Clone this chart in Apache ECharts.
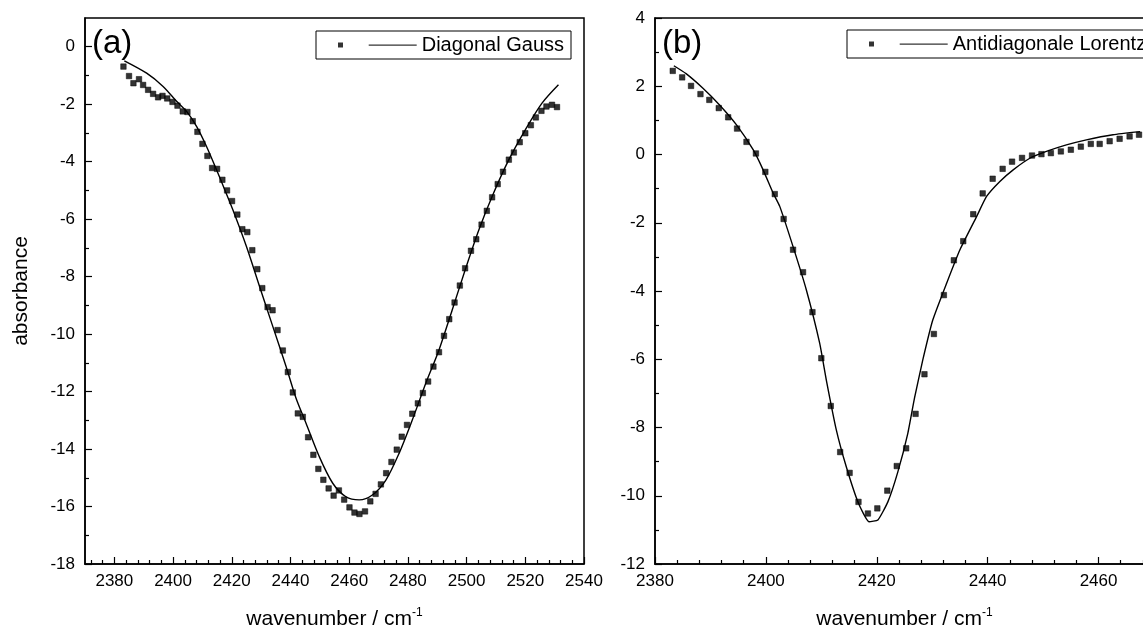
<!DOCTYPE html>
<html>
<head>
<meta charset="utf-8">
<script src="https://cdn.jsdelivr.net/npm/echarts@6/dist/echarts.min.js"></script>
<style>
html,body{margin:0;padding:0;background:#fff;}
#chart{width:1143px;height:626px;}
</style>
</head>
<body>
<div id="chart"></div>
<script>
// ---------- Panel (a): Diagonal Gauss ----------
const aDataX = [2383.1, 2385.0, 2386.5, 2388.4, 2389.8, 2391.5, 2393.2, 2394.9, 2396.4, 2398.0,
  2399.8, 2401.5, 2403.3, 2404.9, 2406.7, 2408.3, 2410.0, 2411.7, 2413.3, 2415.0,
  2416.8, 2418.4, 2420.1, 2421.9, 2423.6, 2425.3, 2427.0, 2428.7, 2430.4, 2432.2,
  2433.9, 2435.6, 2437.4, 2439.1, 2440.8, 2442.5, 2444.2, 2446.0, 2447.8, 2449.5,
  2451.2, 2453.0, 2454.7, 2456.5, 2458.3, 2460.1, 2461.8, 2463.5, 2465.4, 2467.2,
  2469.0, 2470.8, 2472.6, 2474.4, 2476.2, 2477.9, 2479.7, 2481.5, 2483.4, 2485.1,
  2486.9, 2488.7, 2490.6, 2492.3, 2494.1, 2495.9, 2497.7, 2499.5, 2501.5, 2503.3,
  2505.1, 2506.9, 2508.7, 2510.6, 2512.4, 2514.4, 2516.1, 2518.1, 2520.0, 2521.9,
  2523.6, 2525.5, 2527.2, 2529.1, 2530.8];
const aDataY = [-0.69, -1.02, -1.27, -1.13, -1.33, -1.50, -1.64, -1.76, -1.71, -1.80,
  -1.92, -2.05, -2.25, -2.27, -2.59, -2.96, -3.38, -3.80, -4.22, -4.25,
  -4.63, -5.00, -5.37, -5.84, -6.35, -6.45, -7.08, -7.74, -8.40, -9.06,
  -9.17, -9.86, -10.57, -11.32, -12.03, -12.76, -12.88, -13.59, -14.20, -14.69,
  -15.07, -15.37, -15.62, -15.44, -15.76, -16.03, -16.21, -16.26, -16.17, -15.82,
  -15.56, -15.23, -14.84, -14.45, -14.02, -13.57, -13.16, -12.77, -12.41, -12.05,
  -11.65, -11.13, -10.63, -10.06, -9.48, -8.90, -8.31, -7.71, -7.10, -6.70,
  -6.19, -5.71, -5.24, -4.78, -4.35, -3.93, -3.68, -3.32, -3.01, -2.73,
  -2.46, -2.23, -2.08, -2.02, -2.10];
const aFitX = [2383.4, 2391.0, 2396.6, 2401.2, 2404.6, 2408.0, 2411.4, 2414.8, 2417.5, 2420.4,
  2425.0, 2429.5, 2434.0, 2438.5, 2441.9, 2445.3, 2449.8, 2454.4, 2458.9, 2463.4,
  2467.9, 2472.5, 2477.0, 2481.5, 2486.1, 2490.6, 2495.1, 2499.7, 2504.2, 2508.7,
  2514.4, 2520.0, 2525.7, 2531.3];
const aFitY = [-0.49, -0.92, -1.38, -1.90, -2.25, -2.77, -3.47, -4.28, -4.95, -5.68,
  -6.95, -8.35, -9.74, -11.13, -12.23, -13.10, -14.26, -15.19, -15.66, -15.77,
  -15.60, -15.08, -14.15, -12.99, -11.71, -10.55, -9.16, -7.71, -6.37, -5.21,
  -3.93, -2.89, -1.96, -1.32];

// ---------- Panel (b): Antidiagonale Lorentz ----------
const bDataX = [2383.2, 2384.9, 2386.5, 2388.2, 2389.8, 2391.5, 2393.2, 2394.8, 2396.5, 2398.2,
  2399.9, 2401.6, 2403.2, 2404.9, 2406.7, 2408.4, 2410.0, 2411.7, 2413.4, 2415.1,
  2416.7, 2418.4, 2420.1, 2421.9, 2423.6, 2425.3, 2427.0, 2428.6, 2430.3, 2432.1,
  2433.9, 2435.6, 2437.4, 2439.1, 2440.9, 2442.7, 2444.4, 2446.2, 2448.0, 2449.7,
  2451.4, 2453.2, 2455.0, 2456.8, 2458.6, 2460.2, 2462.0, 2463.8, 2465.6, 2467.3];
const bDataY = [2.45, 2.26, 2.01, 1.77, 1.60, 1.36, 1.09, 0.76, 0.37, 0.03,
  -0.51, -1.16, -1.89, -2.79, -3.45, -4.62, -5.97, -7.37, -8.72, -9.33,
  -10.18, -10.52, -10.37, -9.85, -9.13, -8.61, -7.60, -6.44, -5.26, -4.12,
  -3.10, -2.54, -1.75, -1.14, -0.71, -0.42, -0.21, -0.10, -0.03, 0.01,
  0.04, 0.09, 0.14, 0.23, 0.31, 0.31, 0.39, 0.46, 0.53, 0.58];
const bFitX = [2383.4, 2385.6, 2388.6, 2391.6, 2394.7, 2397.7, 2399.5, 2401.3, 2402.5, 2404.9,
  2407.3, 2409.7, 2410.9, 2412.7, 2414.5, 2416.7, 2418.6, 2420.2, 2422.0, 2423.8,
  2425.6, 2426.8, 2428.3, 2430.1, 2432.6, 2435.0, 2438.0, 2439.8, 2442.2, 2444.6,
  2447.6, 2450.6, 2454.2, 2457.8, 2462.6, 2467.5];
const bFitY = [2.60, 2.37, 1.95, 1.46, 0.87, 0.14, -0.45, -1.13, -1.52, -2.70,
  -3.97, -5.53, -6.61, -8.07, -9.15, -10.22, -10.76, -10.71, -10.18, -9.30,
  -8.17, -7.14, -6.02, -4.85, -3.77, -2.79, -1.82, -1.23, -0.79, -0.45,
  -0.11, 0.09, 0.28, 0.43, 0.58, 0.67];

// ---------- Tick values ----------
const aXMajor = [2380, 2400, 2420, 2440, 2460, 2480, 2500, 2520, 2540];
const aXMinor = [2372, 2376, 2384, 2388, 2392, 2396, 2404, 2408, 2412, 2416, 2424, 2428, 2432, 2436,
  2444, 2448, 2452, 2456, 2464, 2468, 2472, 2476, 2484, 2488, 2492, 2496, 2504, 2508, 2512, 2516,
  2524, 2528, 2532, 2536];
const aYMajor = [-18, -16, -14, -12, -10, -8, -6, -4, -2, 0];
const aYMinor = [-17, -15, -13, -11, -9, -7, -5, -3, -1];
const bXMajor = [2380, 2400, 2420, 2440, 2460];
const bXMinor = [2384, 2388, 2392, 2396, 2404, 2408, 2412, 2416, 2424, 2428, 2432, 2436,
  2444, 2448, 2452, 2456, 2464, 2468];
const bYMajor = [-12, -10, -8, -6, -4, -2, 0, 2, 4];
const bYMinor = [-11, -9, -7, -5, -3, -1, 1, 3];

const legendA = 'Diagonal Gauss';
const legendB = 'Antidiagonale Lorentz';
const xTitle = 'wavenumber / cm{sup|-1}';
const yTitle = 'absorbance';

const zip = (xs, ys) => xs.map((x, i) => [x, ys[i]]);

const FONT = '"Liberation Sans", Arial, sans-serif';
const BLACK = '#000';
const plain = v => String(v);

function mainX(grid, min, max, major, withName) {
  return {
    gridIndex: grid, type: 'value', min: min, max: max, position: 'bottom',
    axisLine: { show: true, onZero: false, lineStyle: { color: BLACK, width: 1.5 } },
    axisTick: { show: true, inside: true, length: 7, customValues: major, lineStyle: { color: BLACK, width: 1.2 } },
    axisLabel: { customValues: major, formatter: plain, color: BLACK, fontSize: 17, fontFamily: FONT, margin: 9 },
    splitLine: { show: false },
    name: withName ? xTitle : '',
    nameLocation: 'middle', nameGap: 43,
    nameTextStyle: {
      color: BLACK, fontSize: 21, fontFamily: FONT,
      rich: { sup: { fontSize: 12, fontFamily: FONT, color: BLACK, verticalAlign: 'top', padding: [0, 0, 12, 0] } }
    }
  };
}
function minorX(grid, min, max, minor) {
  return {
    gridIndex: grid, type: 'value', min: min, max: max, position: 'bottom',
    axisLine: { show: false, onZero: false },
    axisTick: { show: true, inside: true, length: 4, customValues: minor, lineStyle: { color: BLACK, width: 1.2 } },
    axisLabel: { show: false }, splitLine: { show: false }
  };
}
function mainY(grid, min, max, major, name) {
  return {
    gridIndex: grid, type: 'value', min: min, max: max, position: 'left',
    axisLine: { show: true, onZero: false, lineStyle: { color: BLACK, width: 1.5 } },
    axisTick: { show: true, inside: true, length: 7, customValues: major, lineStyle: { color: BLACK, width: 1.2 } },
    axisLabel: { customValues: major, formatter: plain, color: BLACK, fontSize: 17, fontFamily: FONT, margin: 10 },
    splitLine: { show: false },
    name: name, nameLocation: 'middle', nameGap: 53, nameRotate: 90,
    nameTextStyle: { color: BLACK, fontSize: 21, fontFamily: FONT }
  };
}
function minorY(grid, min, max, minor) {
  return {
    gridIndex: grid, type: 'value', min: min, max: max, position: 'left',
    axisLine: { show: false, onZero: false },
    axisTick: { show: true, inside: true, length: 4, customValues: minor, lineStyle: { color: BLACK, width: 1.2 } },
    axisLabel: { show: false }, splitLine: { show: false }
  };
}

const legendIcon = 'path://M0,0L5,0L5,5L0,5Z M30.7,2L78.7,2L78.7,3.2L30.7,3.2Z';
function legendCfg(name, left, top) {
  return {
    data: [name], left: left, top: top, orient: 'horizontal',
    icon: legendIcon, itemWidth: 78.7, itemHeight: 5, symbolKeepAspect: false,
    selectedMode: false,
    itemStyle: { color: BLACK, borderWidth: 0 },
    padding: [4, 7, 4, 22],
    borderColor: BLACK, borderWidth: 1, backgroundColor: '#fff',
    textStyle: { color: BLACK, fontSize: 20, fontFamily: FONT }
  };
}

const gridBase = { top: 18, width: 499, height: 546, show: true, borderColor: BLACK, borderWidth: 1.5,
  backgroundColor: 'transparent', containLabel: false, outerBoundsMode: 'none' };
const markerStyle = { color: BLACK, borderColor: BLACK, borderWidth: 0.6 };

const chart = echarts.init(document.getElementById('chart'), null, { renderer: 'canvas' });
chart.setOption({
  animation: false,
  backgroundColor: '#fff',
  grid: [
    Object.assign({ left: 85 }, gridBase),
    Object.assign({ left: 655 }, gridBase)
  ],
  xAxis: [
    mainX(0, 2370, 2540, aXMajor, true),
    minorX(0, 2370, 2540, aXMinor),
    mainX(1, 2380, 2470, bXMajor, true),
    minorX(1, 2380, 2470, bXMinor)
  ],
  yAxis: [
    mainY(0, -18, 1, aYMajor, yTitle),
    minorY(0, -18, 1, aYMinor),
    mainY(1, -12, 4, bYMajor, ''),
    minorY(1, -12, 4, bYMinor)
  ],
  legend: [legendCfg(legendA, 316, 31), legendCfg(legendB, 847, 30)],
  graphic: [
    { type: 'text', left: 92, top: 27, style: { text: '(a)', fill: BLACK, font: '33px "Liberation Sans", Arial, sans-serif' } },
    { type: 'text', left: 662, top: 27, style: { text: '(b)', fill: BLACK, font: '33px "Liberation Sans", Arial, sans-serif' } }
  ],
  series: [
    { name: legendA, type: 'scatter', xAxisIndex: 0, yAxisIndex: 0, data: zip(aDataX, aDataY),
      symbol: 'rect', symbolSize: 5.5, itemStyle: markerStyle, z: 3 },
    { name: 'Gauss fit', type: 'line', xAxisIndex: 0, yAxisIndex: 0, data: zip(aFitX, aFitY),
      showSymbol: false, symbol: 'none', smooth: 0.3, lineStyle: { color: BLACK, width: 1.4 }, itemStyle: { color: BLACK }, z: 2 },
    { name: legendB, type: 'scatter', xAxisIndex: 2, yAxisIndex: 2, data: zip(bDataX, bDataY),
      symbol: 'rect', symbolSize: 5.5, itemStyle: markerStyle, z: 3 },
    { name: 'Lorentz fit', type: 'line', xAxisIndex: 2, yAxisIndex: 2, data: zip(bFitX, bFitY),
      showSymbol: false, symbol: 'none', smooth: 0.15, lineStyle: { color: BLACK, width: 1.4 }, itemStyle: { color: BLACK }, z: 2 }
  ]
});
</script>
</body>
</html>
